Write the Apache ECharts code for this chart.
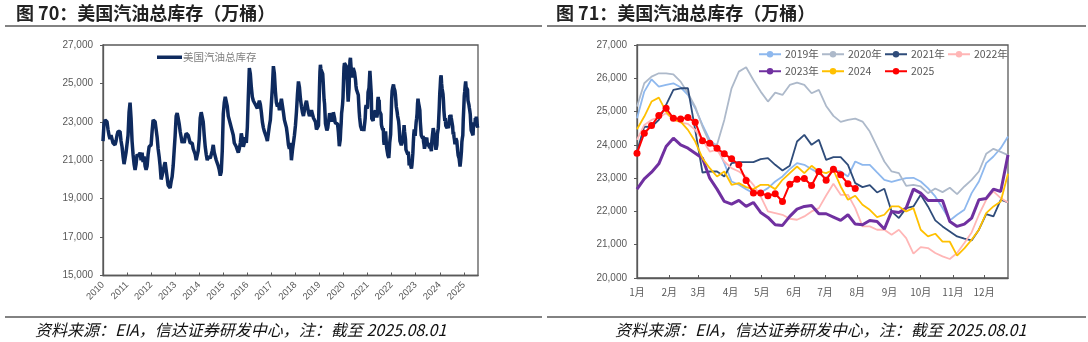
<!DOCTYPE html>
<html><head><meta charset="utf-8">
<script src="https://cdn.jsdelivr.net/npm/echarts@6/dist/echarts.min.js"></script>
<style>html,body{margin:0;padding:0;background:#fff;}#c{width:1088px;height:342px;}</style>
</head><body><div id="c"></div>
<script>
// ---------- Left chart: US total gasoline inventory (万桶), half-monthly readings 2010-2018 ----------
const halfMonthYears = [2010, 2011, 2012, 2013, 2014, 2015, 2016, 2017, 2018];
const inv2010 = [22000, 22900, 23100, 23200, 23000, 22600, 22300, 22100, 22300, 22200, 21900, 22000, 21800, 22000, 22300, 22500, 22600, 22500, 22000, 21700, 21200, 20800, 21100, 21400];
const inv2011 = [21500, 22300, 23500, 24000, 23200, 22000, 21300, 20800, 20500, 20800, 21300, 21400, 21200, 21400, 21000, 21400, 20900, 21200, 20700, 20500, 20700, 21300, 21700, 21800];
const inv2012 = [21800, 22500, 23100, 23200, 23000, 22600, 22200, 21600, 21200, 20700, 20000, 20200, 20300, 20700, 20900, 20500, 20100, 19700, 19600, 19550, 19900, 20150, 20700, 21500];
const inv2013 = [22300, 23300, 23450, 23200, 22900, 22500, 22200, 21900, 22100, 21900, 22200, 22400, 22500, 22300, 22200, 21900, 21800, 21900, 21600, 21500, 21300, 21000, 20900, 21500];
const inv2014 = [22100, 23200, 23500, 23400, 23000, 22300, 21700, 21300, 21000, 21200, 21300, 21100, 21300, 21500, 21800, 21400, 21200, 21000, 20900, 20700, 20500, 20200, 20400, 21500];
const inv2015 = [23400, 24000, 24300, 24200, 23800, 23300, 23100, 22900, 22700, 22600, 22300, 21900, 21800, 21700, 21600, 21400, 21600, 21900, 22400, 22100, 21700, 21900, 22200, 21900];
const inv2016 = [22700, 24300, 25800, 25500, 24800, 24300, 24100, 24000, 23900, 23800, 23700, 23900, 24100, 23900, 23500, 23000, 22700, 22500, 22600, 22200, 22000, 22400, 22800, 23100];
const inv2017 = [23200, 24800, 25900, 25500, 24600, 24000, 23800, 24000, 23600, 23700, 24200, 24100, 23500, 23100, 22900, 22700, 22300, 21800, 21600, 21900, 21000, 21500, 21900, 22300];
const inv2018 = [22800, 23500, 24400, 25100, 24800, 24200, 23800, 23500, 23300, 23600, 23900, 24100, 23800, 23500, 23300, 23400, 23600, 23400, 23200, 23100, 23000, 22600, 22500, 22800];
const halfMonthValues = [inv2010, inv2011, inv2012, inv2013, inv2014, inv2015, inv2016, inv2017, inv2018];

// ---------- Right chart: weekly seasonal series (week 1 = Jan 1, one point per 7 days) ----------
const s2019 = [24800, 25600, 25970, 25750, 25800, 25850, 25730, 25500, 25100, 24600, 24150, 23950, 23450, 22900, 22800, 22670, 22550, 22570, 22700, 22900, 23050, 23270, 23450, 23400, 23270, 23150, 23000, 23250, 23200, 23050, 23500, 23400, 23400, 23170, 22950, 22890, 22950, 23000, 23010, 22900, 22700, 22450, 22100, 21730, 21900, 22050, 22550, 22900, 23450, 23650, 23900, 24250];
const s2020 = [25150, 25850, 26050, 26150, 26150, 26120, 25900, 25550, 25150, 24550, 24050, 24000, 24750, 25700, 26200, 26330, 25950, 25600, 25300, 25570, 25500, 25800, 25870, 25800, 25550, 25650, 25170, 24870, 24690, 24750, 24790, 24700, 24400, 23950, 23500, 23200, 23150, 22770, 22800, 22750, 22550, 22690, 22580, 22710, 22520, 22750, 22950, 23200, 23730, 23880, 23790, 23690];
const s2021 = [23800, 24550, 24540, 24750, 25200, 25650, 25700, 25700, 24450, 23170, 23200, 23200, 23050, 23450, 23480, 23480, 23480, 23570, 23600, 23400, 23230, 23370, 24100, 24300, 24000, 24150, 23550, 23630, 23630, 23400, 22850, 22730, 22790, 22570, 22680, 22000, 21800, 22100, 22150, 22500, 22150, 21730, 21550, 21400, 21250, 21180, 21130, 21450, 21920, 21850, 22350, 22270];
const s2022 = [24150, 24600, 24750, 24830, 24950, 24770, 24670, 24630, 24450, 24150, 23800, 23850, 23500, 23300, 23200, 23050, 22800, 22450, 22000, 21950, 21900, 21780, 21750, 21850, 22000, 22100, 22480, 22830, 22500, 22500, 22100, 21550, 21550, 21450, 21450, 21300, 21450, 21200, 20730, 20930, 20900, 20750, 20650, 20570, 20750, 21050, 21370, 21900, 22350, 22600, 22400, 22270];
const s2023 = [22670, 22980, 23180, 23430, 23950, 24200, 24000, 23900, 23750, 23600, 23000, 22670, 22300, 22220, 22330, 22150, 22270, 21970, 21820, 21600, 21580, 21850, 22070, 22150, 22180, 21930, 21930, 21830, 21730, 21900, 21620, 21600, 21730, 21700, 21470, 22000, 21970, 22100, 22670, 22550, 22330, 22330, 22330, 21700, 21550, 21620, 21800, 22350, 22390, 22670, 22600, 23700];
const s2024 = [24470, 24850, 25300, 25420, 25000, 24750, 24700, 24450, 24100, 23600, 23300, 23050, 23200, 22800, 22850, 22730, 22670, 22800, 22800, 22670, 22950, 23150, 23350, 23150, 23370, 23200, 23150, 23250, 22750, 22350, 22470, 22200, 22050, 21830, 21900, 22150, 22150, 22000, 22100, 21450, 21250, 21330, 21090, 21090, 20670, 20890, 21150, 21450, 21950, 22150, 22300, 23130];
const s2025 = [23750, 24350, 24580, 24880, 25100, 24800, 24780, 24820, 24680, 24120, 24050, 23900, 23730, 23580, 23400, 22930, 22550, 22550, 22470, 22530, 22300, 22820, 22970, 22990, 22780, 23200, 22940, 23270, 23100, 22830, 22690];
const seasonYears = [2019, 2020, 2021, 2022, 2023, 2024, 2025];
const seasonValues = [s2019, s2020, s2021, s2022, s2023, s2024, s2025];
const seasonNames = ['2019年', '2020年', '2021年', '2022年', '2023年', '2024', '2025'];
const seasonColors = ['#8EB8EE', '#ADB9CA', '#2F4C7A', '#FFB6B6', '#7030A0', '#FFC000', '#FF0000'];

// ---------- axis labels ----------
const yearTicks = [2010, 2011, 2012, 2013, 2014, 2015, 2016, 2017, 2018, 2019, 2020, 2021, 2022, 2023, 2024, 2025];
const monthLabels = ['1月', '2月', '3月', '4月', '5月', '6月', '7月', '8月', '9月', '10月', '11月', '12月'];
const monthStartDays = [0, 31, 59, 90, 120, 151, 181, 212, 243, 273, 304, 334];
const leftName = '美国汽油总库存';
const titleLeft = '图 70：美国汽油总库存（万桶）';
const titleRight = '图 71：美国汽油总库存（万桶）';
const sourceText = '资料来源：EIA，信达证券研发中心，注：截至 2025.08.01';

// build left series from the readings
const leftData = [];
halfMonthYears.forEach((yr, k) => halfMonthValues[k].forEach((v, i) => leftData.push([yr + i / 24, v])));
seasonYears.forEach((yr, k) => seasonValues[k].forEach((v, w) => leftData.push([yr + (w * 7) / 365.25, v])));

const FONT = '"Liberation Sans", Arial, sans-serif';
const CJK = '"Noto Sans CJK SC", sans-serif';
const AX = '#595959';
const fmt = v => v.toLocaleString('en-US');

const chart = echarts.init(document.getElementById('c'));

const legendPos = [[758, 49], [821, 49], [884, 49], [947, 49], [758, 66], [821, 66], [884, 66]];
const seasonLegends = seasonNames.map((n, k) => ({
  data: [n], left: legendPos[k][0], top: legendPos[k][1], padding: 0,
  itemWidth: 22, itemHeight: 8, itemGap: 4, selectedMode: false,
  textStyle: { fontSize: 10.5, color: '#595959', fontFamily: CJK, padding: [0, 0, 0, -1] }
}));

const seasonSeries = seasonValues.map((vals, k) => ({
  name: seasonNames[k], type: 'line', xAxisIndex: 1, yAxisIndex: 1,
  data: vals.map((v, w) => [w * 7, v]),
  symbol: k === 6 ? 'circle' : 'none', symbolSize: 7, showSymbol: k === 6,
  lineStyle: { color: seasonColors[k], width: k === 4 ? 3 : (k === 6 ? 2 : 1.8) },
  itemStyle: { color: seasonColors[k] },
  emphasis: { disabled: true }, animation: false, z: 2 + k
}));

const option = {
  animation: false,
  graphic: [
    { type: 'text', left: 16, top: 4, style: { text: titleLeft, font: 'bold 18px ' + CJK, fill: '#222' } },
    { type: 'text', left: 556, top: 4, style: { text: titleRight, font: 'bold 18px ' + CJK, fill: '#222' } },
    { type: 'line', shape: { x1: 5, y1: 26, x2: 542, y2: 26 }, style: { stroke: '#595959', lineWidth: 1.5 } },
    { type: 'line', shape: { x1: 547, y1: 26, x2: 1086, y2: 26 }, style: { stroke: '#595959', lineWidth: 1.5 } },
    { type: 'line', shape: { x1: 5, y1: 317, x2: 542, y2: 317 }, style: { stroke: '#595959', lineWidth: 1.5 } },
    { type: 'line', shape: { x1: 547, y1: 317, x2: 1086, y2: 317 }, style: { stroke: '#595959', lineWidth: 1.5 } },
    { type: 'text', left: 35, top: 322, style: { text: sourceText, font: 'italic 16px ' + CJK, fill: '#111' } },
    { type: 'text', left: 615, top: 322, style: { text: sourceText, font: 'italic 16px ' + CJK, fill: '#111' } }
  ],
  grid: [
    { left: 103, top: 45, width: 375, height: 230.5, show: true, borderColor: AX, borderWidth: 1.3, containLabel: false },
    { left: 637, top: 45, width: 371, height: 233, show: true, borderColor: AX, borderWidth: 1.3, containLabel: false }
  ],
  legend: [
    { data: [leftName], left: 157, top: 52, padding: 0, icon: 'rect', itemWidth: 25, itemHeight: 3.5, itemGap: 2, selectedMode: false,
      textStyle: { fontSize: 10.5, color: '#7f7f7f', fontFamily: CJK, padding: [0, 0, 0, -4] } }
  ].concat(seasonLegends),
  xAxis: [
    { type: 'value', gridIndex: 0, min: 2010, max: 2025.59, splitLine: { show: false },
      axisLine: { lineStyle: { color: AX, width: 1.3 } },
      axisTick: { inside: true, length: 3, customValues: yearTicks, lineStyle: { color: AX } },
      axisLabel: { customValues: yearTicks, rotate: 45, fontSize: 9.5, color: AX, fontFamily: FONT, margin: 8, formatter: v => String(Math.round(v)) } },
    { type: 'value', gridIndex: 1, min: 0, max: 357, splitLine: { show: false },
      axisLine: { lineStyle: { color: AX, width: 1.3 } },
      axisTick: { inside: true, length: 3, customValues: monthStartDays.slice(1), lineStyle: { color: AX } },
      axisLabel: { customValues: monthStartDays, fontSize: 10, color: AX, fontFamily: CJK, margin: 9,
        formatter: v => monthLabels[monthStartDays.indexOf(v)] } }
  ],
  yAxis: [
    { type: 'value', gridIndex: 0, min: 15000, max: 27000, interval: 2000, splitLine: { show: false },
      axisLine: { show: true, lineStyle: { color: AX, width: 1.3 } },
      axisTick: { show: true, length: 3, lineStyle: { color: AX } },
      axisLabel: { fontSize: 10, color: AX, fontFamily: FONT, margin: 10, formatter: fmt } },
    { type: 'value', gridIndex: 1, min: 20000, max: 27000, interval: 1000, splitLine: { show: false },
      axisLine: { show: true, lineStyle: { color: AX, width: 1.3 } },
      axisTick: { show: true, length: 3, lineStyle: { color: AX } },
      axisLabel: { fontSize: 10, color: AX, fontFamily: FONT, margin: 10, formatter: fmt } }
  ],
  series: [
    { name: leftName, type: 'line', xAxisIndex: 0, yAxisIndex: 0, data: leftData, showSymbol: false, symbol: 'none',
      lineStyle: { color: '#0E2A5E', width: 3.5 }, itemStyle: { color: '#0E2A5E' }, emphasis: { disabled: true } }
  ].concat(seasonSeries)
};
chart.setOption(option);
</script></body></html>
